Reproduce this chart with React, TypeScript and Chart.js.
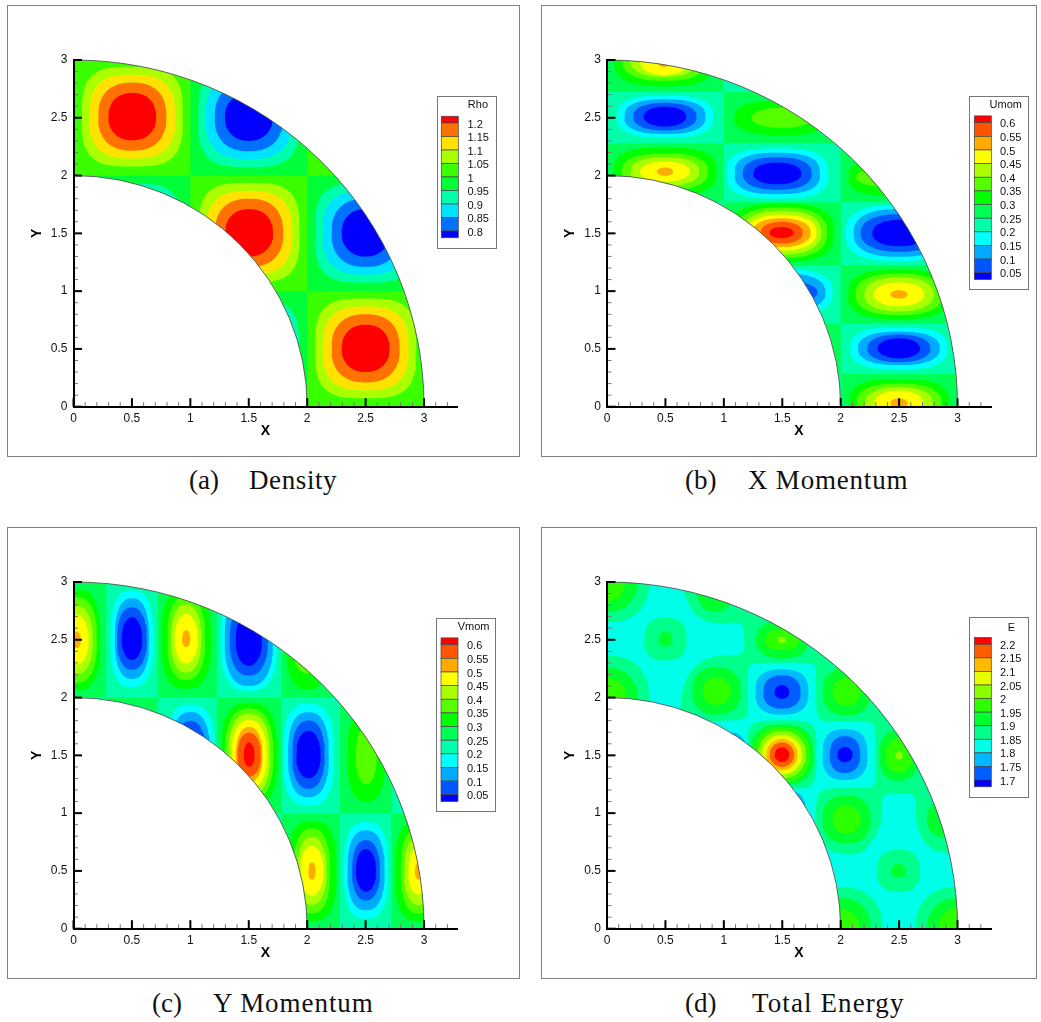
import React, { useEffect, useRef } from "react";
import { Chart, registerables } from "chart.js";

Chart.register(...registerables);

// ---- axis ticks ----
const xMajorTicks = [0, 0.5, 1, 1.5, 2, 2.5, 3];
const yMajorTicks = [0, 0.5, 1, 1.5, 2, 2.5, 3];
const xMinorTicks = [0.1, 0.2, 0.3, 0.4, 0.6, 0.7, 0.8, 0.9, 1.1, 1.2, 1.3, 1.4, 1.6, 1.7, 1.8, 1.9, 2.1, 2.2, 2.3, 2.4, 2.6, 2.7, 2.8, 2.9, 3.1, 3.2];
const yMinorTicks = [0.1, 0.2, 0.3, 0.4, 0.6, 0.7, 0.8, 0.9, 1.1, 1.2, 1.3, 1.4, 1.6, 1.7, 1.8, 1.9, 2.1, 2.2, 2.3, 2.4, 2.6, 2.7, 2.8, 2.9];

// ---- contour levels (legend labels, top to bottom) and band colours ----
const rhoLevels = ["1.2", "1.15", "1.1", "1.05", "1", "0.95", "0.9", "0.85", "0.8"];
const rhoColors = ["#ff0000", "#ff7100", "#ffe300", "#aaff00", "#39ff00", "#00ff39", "#00ffaa", "#00e3ff", "#0071ff", "#0000ff"];
const momLevels = ["0.6", "0.55", "0.5", "0.45", "0.4", "0.35", "0.3", "0.25", "0.2", "0.15", "0.1", "0.05"];
const momColors = ["#ff0000", "#ff5500", "#ffaa00", "#ffff00", "#aaff00", "#55ff00", "#00ff00", "#00ff55", "#00ffaa", "#00ffff", "#00aaff", "#0055ff", "#0000ff"];
const energyLevels = ["2.2", "2.15", "2.1", "2.05", "2", "1.95", "1.9", "1.85", "1.8", "1.75", "1.7"];
const energyColors = ["#ff0000", "#ff5d00", "#ffb900", "#e8ff00", "#8bff00", "#2eff00", "#00ff2e", "#00ff8b", "#00ffe8", "#00b9ff", "#005dff", "#0000ff"];

// ---- checker cell limits of each field ----
const rhoXCells = [-0.1, 1, 2, 3.3];
const rhoYCells = [-0.1, 1, 2, 3.2];
const umomXCells = [-0.1, 1, 2, 3.3];
const umomYCells = [-0.1, 0.283, 0.72, 1.226, 1.77, 2.28, 2.725, 3.2];
const vmomXCells = [-0.1, 0.28, 0.72, 1.226, 1.78, 2.28, 2.72, 3.3];
const vmomYCells = [-0.1, 1, 2, 3.2];

// ---- contour rings: [centre x, centre y, [[band, half x, half y, squareness], ...]] ----
const rhoCrest = [[3, 0.432, 0.432, 3.3], [2, 0.369, 0.363, 2.75], [1, 0.292, 0.295, 2.4], [0, 0.205, 0.205, 2.2]];
const rhoTrough = [[6, 0.432, 0.432, 3.3], [7, 0.369, 0.363, 2.75], [8, 0.292, 0.295, 2.4], [9, 0.205, 0.205, 2.2]];
const rhoBlobs = [
  [0.503, 2.51, rhoCrest], [1.5, 2.505, rhoTrough], [1.503, 1.505, rhoCrest], [2.5, 1.505, rhoTrough],
  [2.5, 0.505, rhoCrest], [0.5, 1.5, rhoTrough], [1.5, 0.5, rhoTrough], [2.5, 2.5, rhoCrest],
];
const umomBlobs = [
  [0.49, 3.0, [[6, 0.43, 0.23, 2.7], [5, 0.36, 0.18, 2.5], [4, 0.29, 0.145, 2.35], [3, 0.21, 0.13, 2.15], [2, 0.07, 0.06, 2]]],
  [0.496, 2.51, [[9, 0.413, 0.183, 2.7], [10, 0.348, 0.151, 2.5], [11, 0.271, 0.12, 2.3], [12, 0.182, 0.086, 2.1]]],
  [0.496, 2.034, [[6, 0.44, 0.21, 2.8], [5, 0.37, 0.158, 2.5], [4, 0.295, 0.125, 2.3], [3, 0.214, 0.087, 2.1], [2, 0.071, 0.036, 2]]],
  [1.497, 2.5, [[6, 0.41, 0.151, 2.5], [5, 0.26, 0.087, 2.15]]],
  [1.457, 2.018, [[9, 0.433, 0.216, 3], [10, 0.366, 0.179, 2.7], [11, 0.295, 0.141, 2.4], [12, 0.207, 0.094, 2.15]]],
  [2.5, 1.985, [[6, 0.435, 0.165, 2.7], [5, 0.37, 0.087, 2.3]]],
  [1.494, 1.506, [[6, 0.45, 0.252, 2.8], [5, 0.39, 0.22, 2.5], [4, 0.34, 0.19, 2.4], [3, 0.3, 0.155, 2.3], [2, 0.25, 0.125, 2.2], [1, 0.182, 0.094, 2.15], [0, 0.104, 0.048, 2]]],
  [1.5, 0.99, [[9, 0.43, 0.2, 2.7], [10, 0.37, 0.165, 2.4], [11, 0.3, 0.1, 2.15]]],
  [2.5, 1.503, [[9, 0.455, 0.243, 2.8], [10, 0.39, 0.206, 2.5], [11, 0.33, 0.162, 2.3], [12, 0.23, 0.115, 2.15]]],
  [2.498, 0.972, [[6, 0.435, 0.216, 2.7], [5, 0.37, 0.18, 2.5], [4, 0.297, 0.148, 2.3], [3, 0.214, 0.104, 2.15], [2, 0.074, 0.036, 2]]],
  [2.498, 0.505, [[9, 0.418, 0.182, 2.7], [10, 0.35, 0.145, 2.45], [11, 0.27, 0.12, 2.25], [12, 0.182, 0.087, 2.05]]],
  [2.498, 0.03, [[6, 0.43, 0.21, 2.8], [5, 0.365, 0.17, 2.5], [4, 0.29, 0.14, 2.3], [3, 0.21, 0.108, 2.15], [2, 0.074, 0.042, 2]]],
];
const vmomBlobs = [
  [0.03, 2.5, [[6, 0.2, 0.437, 2.7], [5, 0.17, 0.37, 2.45], [4, 0.135, 0.295, 2.25], [3, 0.1, 0.214, 2.05], [2, 0.033, 0.071, 2]]],
  [0.5, 2.51, [[9, 0.183, 0.418, 2.7], [10, 0.147, 0.349, 2.45], [11, 0.128, 0.271, 2.25], [12, 0.088, 0.185, 2.05]]],
  [0.964, 2.51, [[6, 0.214, 0.433, 2.7], [5, 0.161, 0.36, 2.45], [4, 0.13, 0.295, 2.25], [3, 0.1, 0.215, 2.05], [2, 0.036, 0.073, 2]]],
  [1.5, 2.5, [[9, 0.24, 0.44, 2.8], [10, 0.207, 0.4, 2.5], [11, 0.164, 0.31, 2.3], [12, 0.113, 0.225, 2.15]]],
  [2.0, 2.5, [[6, 0.18, 0.43, 2.7], [5, 0.132, 0.29, 2.25]]],
  [1.0, 1.5, [[9, 0.21, 0.44, 2.7], [10, 0.17, 0.375, 2.45], [11, 0.135, 0.3, 2.25]]],
  [1.503, 1.506, [[6, 0.24, 0.45, 2.8], [5, 0.207, 0.4, 2.5], [4, 0.178, 0.353, 2.4], [3, 0.153, 0.3, 2.25], [2, 0.114, 0.24, 2.2], [1, 0.1, 0.19, 2.15], [0, 0.047, 0.105, 2]]],
  [2.01, 1.506, [[9, 0.217, 0.44, 2.8], [10, 0.175, 0.368, 2.5], [11, 0.14, 0.296, 2.3], [12, 0.105, 0.205, 2.15]]],
  [2.505, 1.5, [[6, 0.161, 0.404, 2.5], [5, 0.09, 0.25, 2.15]]],
  [2.04, 0.5, [[6, 0.21, 0.435, 2.7], [5, 0.155, 0.368, 2.45], [4, 0.125, 0.295, 2.25], [3, 0.1, 0.215, 2.05], [2, 0.033, 0.075, 2]]],
  [2.503, 0.505, [[9, 0.19, 0.418, 2.7], [10, 0.16, 0.346, 2.45], [11, 0.12, 0.262, 2.25], [12, 0.087, 0.185, 2.05]]],
  [2.951, 0.5, [[6, 0.2, 0.435, 2.7], [5, 0.15, 0.368, 2.45], [4, 0.122, 0.295, 2.25], [3, 0.087, 0.205, 2.05], [2, 0.03, 0.075, 2]]],
];
const energyBlobs = [
  [0, 3, [[7, 0.36, 0.35, 2.3], [6, 0.262, 0.26, 2.15], [5, 0.154, 0.17, 2.05]]],
  [0, 2, [[7, 0.36, 0.365, 2.3], [6, 0.262, 0.26, 2.15], [5, 0.168, 0.17, 2.05]]],
  [0.499, 2.506, [[7, 0.182, 0.185, 2.55], [6, 0.061, 0.065, 2]]],
  [0.925, 3, [[6, 0.171, 0.26, 2.3]]],
  [0.938, 2.057, [[6, 0.208, 0.206, 2.35], [5, 0.121, 0.122, 2.05]]],
  [1.497, 2.5, [[6, 0.222, 0.164, 2.35], [5, 0.148, 0.09, 2.15], [4, 0.036, 0.027, 2]]],
  [2.05, 2.05, [[6, 0.205, 0.205, 2.35], [5, 0.121, 0.122, 2.05]]],
  [2.498, 1.5, [[6, 0.17, 0.22, 2.4], [5, 0.115, 0.15, 2.15], [4, 0.032, 0.035, 2]]],
  [2.05, 0.946, [[6, 0.207, 0.209, 2.35], [5, 0.121, 0.122, 2.05]]],
  [2.95, 0.95, [[6, 0.215, 0.17, 2.35]]],
  [1.497, 1.506, [[7, 0.295, 0.295, 5], [6, 0.27, 0.262, 2.65], [5, 0.24, 0.24, 2.25], [4, 0.205, 0.205, 2.15], [3, 0.172, 0.172, 2.05], [2, 0.135, 0.135, 2], [1, 0.106, 0.106, 2], [0, 0.063, 0.063, 2]]],
  [1.497, 2.048, [[9, 0.227, 0.196, 2.65], [10, 0.16, 0.144, 2.35], [11, 0.064, 0.059, 2]]],
  [2.036, 1.506, [[9, 0.193, 0.22, 2.65], [10, 0.131, 0.159, 2.35], [11, 0.066, 0.066, 2]]],
  [1.03, 1.5, [[9, 0.17, 0.2, 2.6]]],
  [1.5, 1.03, [[9, 0.2, 0.17, 2.6]]],
  [2, 0, [[7, 0.36, 0.36, 2.3], [6, 0.26, 0.265, 2.15], [5, 0.168, 0.167, 2.05]]],
  [3, 0, [[7, 0.36, 0.36, 2.3], [6, 0.265, 0.265, 2.15], [5, 0.165, 0.18, 2.05]]],
  [2.495, 0.5, [[7, 0.183, 0.183, 2.55], [6, 0.065, 0.062, 2]]],
];
// The connected 1.85-1.9 band of the energy field, traced as one outline.
const energyBandOutline = [
  [0.644, 3.23], [0.644, 3.03], [0.667, 2.884], [0.739, 2.74], [0.853, 2.659], [0.981, 2.645], [1.123, 2.645], [1.166, 2.61],
  [1.172, 2.408], [1.129, 2.371], [0.981, 2.365], [0.838, 2.33], [0.724, 2.235], [0.653, 2.091], [0.63, 1.932], [0.633, 1.806],
  [1.123, 1.806], [1.186, 1.832], [1.203, 1.875], [1.209, 2.25], [1.252, 2.296], [1.737, 2.296], [1.785, 2.264], [1.794, 1.875],
  [1.822, 1.817], [1.865, 1.797], [2.25, 1.788], [2.287, 1.745], [2.298, 1.269], [2.264, 1.223], [1.893, 1.211], [1.822, 1.183],
  [1.794, 1.096], [1.785, 0.952], [1.814, 0.808], [1.908, 0.678], [2.064, 0.64], [2.178, 0.663], [2.293, 0.796], [2.35, 0.94],
  [2.358, 1.125], [2.392, 1.162], [2.606, 1.162], [2.64, 1.125], [2.649, 0.923], [2.706, 0.764], [2.806, 0.678], [2.963, 0.646],
  [3.6, 0.646], [3.6, 3.23],
];

const X_MAX = 3.287;
const PX_PER_X = 116.85;
const PLOT_H = 346.7;

type Shape = { label: string; band: number; points: { x: number; y: number }[]; tension?: number };

function ringShape(cx: number, cy: number, ring: number[]): Shape {
  const [band, hx, hy, n] = ring;
  const points: { x: number; y: number }[] = [];
  for (let i = 0; i < 72; i++) {
    const a = (i / 72) * 2 * Math.PI;
    const c = Math.cos(a);
    const s = Math.sin(a);
    points.push({
      x: cx + hx * Math.sign(c) * Math.pow(Math.abs(c), 2 / n),
      y: cy + hy * Math.sign(s) * Math.pow(Math.abs(s), 2 / n),
    });
  }
  return { label: `ring ${cx},${cy}`, band, points };
}

function rectPoints(x0: number, x1: number, y0: number, y1: number) {
  return [{ x: x0, y: y0 }, { x: x1, y: y0 }, { x: x1, y: y1 }, { x: x0, y: y1 }];
}

function checkerShapes(xs: number[], ys: number[], even: number, odd: number): Shape[] {
  // An underlay first, so the cell edges leave no pale seam.
  const out: Shape[] = [{ label: "base", band: even, points: rectPoints(xs[0], xs[xs.length - 1], ys[0], ys[ys.length - 1]) }];
  for (let r = 0; r < ys.length - 1; r++) {
    for (let c = 0; c < xs.length - 1; c++) {
      if ((r + c) % 2 !== 0) {
        out.push({ label: `cell ${c},${r}`, band: odd, points: rectPoints(xs[c], xs[c + 1], ys[r], ys[r + 1]) });
      }
    }
  }
  return out;
}

function blobShapes(blobs: any[]): Shape[] {
  return blobs.flatMap(([cx, cy, rings]) => rings.map((r: number[]) => ringShape(cx, cy, r)));
}

const panels = [
  {
    left: 7, top: 5, width: 513, plotLeft: 73.5, plotBottom: 406.7,
    colors: rhoColors, levels: rhoLevels,
    shapes: () => [...checkerShapes(rhoXCells, rhoYCells, 4, 5), ...blobShapes(rhoBlobs)],
    legend: { title: "Rho", titleRight: 488, titleY: 105, box: [437, 96, 59, 152], bar: [441.3, 458.3], first: 123, step: 13.5, labelX: 467.5 },
  },
  {
    left: 541, top: 5, width: 496, plotLeft: 607, plotBottom: 406.7,
    colors: momColors, levels: momLevels,
    shapes: () => [...checkerShapes(umomXCells, umomYCells, 7, 8), ...blobShapes(umomBlobs)],
    legend: { title: "Umom", titleRight: 1022, titleY: 105, box: [969, 96, 59, 193], bar: [974.3, 991.3], first: 122.7, step: 13.64, labelX: 1000 },
  },
  {
    left: 7, top: 527, width: 513, plotLeft: 73.5, plotBottom: 928.7,
    colors: momColors, levels: momLevels,
    shapes: () => [...checkerShapes(vmomXCells, vmomYCells, 7, 8), ...blobShapes(vmomBlobs)],
    legend: { title: "Vmom", titleRight: 489.5, titleY: 627, box: [436, 618, 59, 193], bar: [441, 458], first: 644.7, step: 13.64, labelX: 467 },
  },
  {
    left: 541, top: 527, width: 496, plotLeft: 607, plotBottom: 928.7,
    colors: energyColors, levels: energyLevels,
    shapes: () => [
      { label: "base", band: 8, points: rectPoints(-0.1, 3.3, -0.1, 3.2) },
      { label: "band", band: 7, points: energyBandOutline.map(([x, y]) => ({ x, y })), tension: 0.2 },
      ...blobShapes(energyBlobs),
    ],
    legend: { title: "E", titleRight: 1015, titleY: 628, box: [969, 617, 59, 180], bar: [974.3, 991.3], first: 644.3, step: 13.57, labelX: 1000 },
  },
];

const captions = [
  { tag: "(a)", tagX: 189, text: "Density", textX: 249, top: 465, spacing: 0.6 },
  { tag: "(b)", tagX: 685, text: "X Momentum", textX: 748, top: 465, spacing: 0.8 },
  { tag: "(c)", tagX: 152, text: "Y Momentum", textX: 213, top: 988, spacing: 0.95 },
  { tag: "(d)", tagX: 685, text: "Total Energy", textX: 752, top: 988, spacing: 1.1 },
];

const PANEL_H = 452;
const Y_SCALE_W = 45;
const X_SCALE_H = 33;
const SANS = '"Liberation Sans", Arial, sans-serif';

function makeChart(canvas: HTMLCanvasElement, p: any) {
  const shapes: Shape[] = p.shapes();
  const n = shapes.length;
  const annulus = {
    id: "annulus",
    beforeDatasetsDraw(chart: any) {
      const { ctx, scales } = chart;
      const cx = scales.x.getPixelForValue(0);
      const cy = scales.y.getPixelForValue(0);
      const ax = scales.x.getPixelForValue(1) - cx;
      const ay = cy - scales.y.getPixelForValue(1);
      ctx.save();
      ctx.beginPath();
      ctx.ellipse(cx, cy, 3 * ax, 3 * ay, 0, 0, -Math.PI / 2, true);
      ctx.ellipse(cx, cy, 2 * ax, 2 * ay, 0, -Math.PI / 2, 0, false);
      ctx.closePath();
      ctx.clip();
    },
    afterDatasetsDraw(chart: any) {
      const { ctx, scales } = chart;
      ctx.restore();
      const cx = scales.x.getPixelForValue(0);
      const cy = scales.y.getPixelForValue(0);
      const ax = scales.x.getPixelForValue(1) - cx;
      const ay = cy - scales.y.getPixelForValue(1);
      ctx.save();
      ctx.strokeStyle = "#555";
      ctx.lineWidth = 0.9;
      for (const r of [2, 3]) {
        ctx.beginPath();
        ctx.ellipse(cx, cy, r * ax, r * ay, 0, 0, -Math.PI / 2, true);
        ctx.stroke();
      }
      const tick = (axis: "x" | "y", v: number, len: number, w: number, col: string) => {
        ctx.strokeStyle = col;
        ctx.lineWidth = w;
        ctx.beginPath();
        if (axis === "x") {
          const px = scales.x.getPixelForValue(v);
          const base = scales.y.getPixelForValue(0);
          ctx.moveTo(px, base);
          ctx.lineTo(px, base - len);
        } else {
          const py = scales.y.getPixelForValue(v);
          const base = scales.x.getPixelForValue(0);
          ctx.moveTo(base, py);
          ctx.lineTo(base + len, py);
        }
        ctx.stroke();
      };
      xMinorTicks.forEach((v) => tick("x", v, 4.5, 1, "#777"));
      yMinorTicks.forEach((v) => tick("y", v, 4.5, 1, "#777"));
      xMajorTicks.forEach((v) => tick("x", v, 8.5, 2, "#000"));
      yMajorTicks.forEach((v) => tick("y", v, 8.5, 2, "#000"));
      ctx.restore();
    },
  };
  const legendBox = {
    id: "contourLegend",
    afterDraw(chart: any) {
      const { ctx } = chart;
      const l = p.legend;
      const ox = p.left;
      const oy = p.top;
      ctx.save();
      ctx.fillStyle = "#fff";
      ctx.strokeStyle = "#777";
      ctx.lineWidth = 1;
      ctx.fillRect(l.box[0] - ox, l.box[1] - oy, l.box[2], l.box[3]);
      ctx.strokeRect(l.box[0] - ox + 0.5, l.box[1] - oy + 0.5, l.box[2], l.box[3]);
      const edge = (i: number) => l.first - oy + i * l.step;
      p.colors.forEach((c: string, i: number) => {
        const y0 = i === 0 ? edge(0) - l.step / 2 : edge(i - 1);
        const y1 = i === p.colors.length - 1 ? edge(i - 1) + l.step / 2 : edge(i);
        ctx.fillStyle = c;
        ctx.fillRect(l.bar[0] - ox, y0, l.bar[1] - l.bar[0], y1 - y0);
        ctx.strokeStyle = "#444";
        ctx.lineWidth = 0.7;
        ctx.strokeRect(l.bar[0] - ox, y0, l.bar[1] - l.bar[0], y1 - y0);
      });
      ctx.fillStyle = "#111";
      ctx.font = `11px ${SANS}`;
      ctx.textBaseline = "middle";
      ctx.textAlign = "left";
      p.levels.forEach((t: string, i: number) => ctx.fillText(t, l.labelX - ox, edge(i) + 1.5));
      ctx.textAlign = "right";
      ctx.fillText(l.title, l.titleRight - ox, l.titleY - oy);
      ctx.restore();
    },
  };
  const plotRight = p.plotLeft + X_MAX * PX_PER_X;
  const plotTop = p.plotBottom - PLOT_H;
  return new Chart(canvas, {
    type: "scatter",
    data: {
      datasets: shapes.map((s, i) => ({
        label: s.label,
        data: s.points,
        showLine: true,
        fill: "shape",
        backgroundColor: p.colors[s.band],
        borderWidth: 0,
        pointRadius: 0,
        tension: s.tension || 0,
        order: n - i,
      })),
    },
    options: {
      animation: false,
      responsive: false,
      events: [],
      layout: {
        padding: {
          left: p.plotLeft - p.left - Y_SCALE_W,
          right: p.left + p.width - plotRight,
          top: plotTop - p.top,
          bottom: p.top + PANEL_H - p.plotBottom - X_SCALE_H,
        },
      },
      plugins: { legend: { display: false }, tooltip: { enabled: false }, title: { display: false } },
      scales: {
        x: {
          type: "linear",
          min: 0,
          max: X_MAX,
          afterBuildTicks: (s: any) => { s.ticks = xMajorTicks.map((value) => ({ value })); },
          afterFit: (s: any) => { s.height = X_SCALE_H; },
          grid: { display: false, drawTicks: false },
          border: { display: true, color: "#000", width: 2, z: 1 },
          ticks: { autoSkip: false, maxRotation: 0, padding: 5, color: "#111", font: { family: SANS, size: 12 }, callback: (v: any) => String(v) },
          title: { display: true, text: "X", color: "#000", padding: 0, font: { family: SANS, size: 14, weight: "bold" } },
        },
        y: {
          type: "linear",
          min: 0,
          max: 3,
          afterBuildTicks: (s: any) => { s.ticks = yMajorTicks.map((value) => ({ value })); },
          afterFit: (s: any) => { s.width = Y_SCALE_W; },
          grid: { display: false, drawTicks: false },
          border: { display: true, color: "#000", width: 2, z: 1 },
          ticks: { autoSkip: false, padding: 6, color: "#111", font: { family: SANS, size: 12 }, callback: (v: any) => String(v) },
          title: { display: true, text: "Y", color: "#000", padding: 0, font: { family: SANS, size: 14, weight: "bold" } },
        },
      },
    },
    plugins: [annulus, legendBox],
  } as any);
}

function Panel({ p }: { p: any }) {
  const ref = useRef<HTMLCanvasElement | null>(null);
  useEffect(() => {
    const chart = makeChart(ref.current as HTMLCanvasElement, p);
    return () => chart.destroy();
  }, [p]);
  return (
    <>
      <canvas
        ref={ref}
        width={p.width}
        height={PANEL_H}
        style={{ position: "absolute", left: p.left, top: p.top, width: p.width, height: PANEL_H, display: "block" }}
      />
      <div
        style={{
          position: "absolute", left: p.left, top: p.top, width: p.width, height: PANEL_H,
          boxSizing: "border-box", border: "1px solid #808080", pointerEvents: "none",
        }}
      />
    </>
  );
}

const captionStyle: React.CSSProperties = {
  position: "absolute",
  fontFamily: '"Liberation Serif", serif',
  fontSize: 27,
  lineHeight: "30px",
  color: "#111",
  whiteSpace: "pre",
};

export default function App() {
  return (
    <div style={{ position: "absolute", left: 0, top: 0, width: 1041, height: 1022, background: "#fff", overflow: "hidden" }}>
      {panels.map((p, i) => <Panel key={i} p={p} />)}
      {captions.map((c) => (
        <React.Fragment key={c.tag}>
          <span style={{ ...captionStyle, left: c.tagX, top: c.top }}>{c.tag}</span>
          <span style={{ ...captionStyle, left: c.textX, top: c.top, letterSpacing: c.spacing }}>{c.text}</span>
        </React.Fragment>
      ))}
    </div>
  );
}
